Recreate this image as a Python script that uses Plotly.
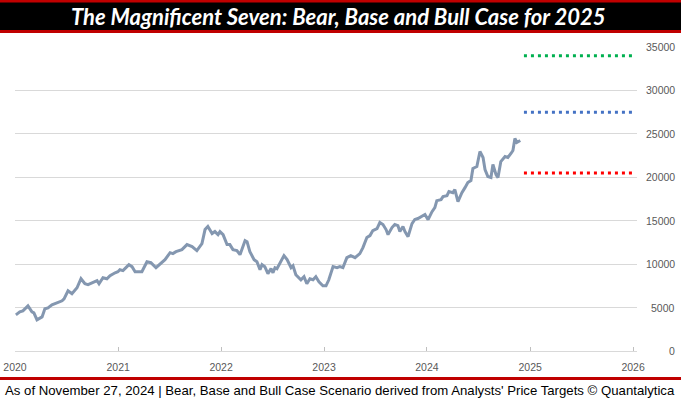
import plotly.graph_objects as go

# ---------------- data ----------------
DATES = [
    "2020-01-04","2020-01-18","2020-01-29","2020-02-16","2020-03-01","2020-03-08","2020-03-19","2020-04-06","2020-04-16","2020-04-27",
    "2020-05-11","2020-05-29","2020-06-16","2020-06-23","2020-07-07","2020-07-21","2020-08-08","2020-08-22","2020-09-05","2020-09-16",
    "2020-10-04","2020-10-18","2020-10-25","2020-11-08","2020-11-22","2020-12-03","2020-12-21","2020-12-31",
    "2021-01-07","2021-01-18","2021-02-01","2021-02-08","2021-02-19","2021-03-02","2021-03-12","2021-03-26","2021-04-13","2021-04-27",
    "2021-05-15","2021-05-29","2021-06-16","2021-07-04","2021-07-14","2021-07-25","2021-08-15","2021-09-02","2021-09-20","2021-10-07",
    "2021-10-25","2021-11-05","2021-11-15","2021-11-30","2021-12-10","2021-12-21","2021-12-28",
    "2022-01-08","2022-01-22","2022-02-01","2022-02-12","2022-02-26","2022-03-09","2022-03-27","2022-04-03","2022-04-13","2022-04-28",
    "2022-05-08","2022-05-19","2022-05-26","2022-06-05","2022-06-16","2022-06-27","2022-07-04","2022-07-11","2022-07-18","2022-08-01",
    "2022-08-12","2022-08-23","2022-09-06","2022-09-13","2022-09-23","2022-10-11","2022-10-22","2022-11-01","2022-11-12","2022-11-23",
    "2022-12-03","2022-12-14","2022-12-28",
    "2023-01-08","2023-01-18","2023-02-02","2023-02-16","2023-02-26","2023-03-09","2023-03-23","2023-04-06","2023-04-21","2023-05-08",
    "2023-05-19","2023-06-02","2023-06-13","2023-06-23","2023-07-08","2023-07-18","2023-07-29","2023-08-09","2023-08-16","2023-08-30",
    "2023-09-09","2023-09-20","2023-09-27","2023-10-08","2023-10-15","2023-10-26","2023-11-09","2023-11-19","2023-11-30","2023-12-14",
    "2023-12-25",
    "2024-01-05","2024-01-19","2024-01-29","2024-02-05","2024-02-20","2024-02-27","2024-03-12","2024-03-19","2024-04-02","2024-04-09",
    "2024-04-20","2024-05-04","2024-05-15","2024-05-25","2024-06-05","2024-06-12","2024-06-26","2024-07-07","2024-07-18","2024-07-25",
    "2024-08-04","2024-08-15","2024-08-22","2024-09-02","2024-09-09","2024-09-19","2024-10-04","2024-10-14","2024-10-25","2024-11-01",
    "2024-11-08","2024-11-15","2024-11-27",
]

INDEX_VALUES = [
    4160,4510,4620,5200,4510,4390,3590,3930,4860,4970,
    5320,5550,5780,6010,6940,6590,7280,8320,7740,7630,
    7860,8090,7740,8440,8320,8670,9010,9130,
    9360,9250,9710,9940,9710,9130,9130,9130,10280,10170,
    9590,10050,10520,11320,11210,11440,11670,12250,12020,11560,
    12360,13980,14330,13520,13750,13400,13750,
    13400,12250,12250,11670,11560,11090,12710,12590,11440,10520,
    10280,9360,9940,9710,8900,9480,9010,9590,9480,10280,
    10980,10520,9590,9820,8780,8200,8550,7740,8320,8200,
    8550,7970,7510,
    7510,8200,9710,9590,9710,9590,10750,10980,10750,11210,
    11900,13060,13290,13870,14100,14790,14560,13980,13400,14210,
    14560,14440,13750,14330,13750,13170,14670,15140,15250,15480,
    15710,
    15120,16040,16500,17310,17430,17770,17890,18350,18230,18580,
    17190,18230,18810,19390,19620,21010,21240,22970,22280,20890,
    20080,19970,21470,20310,19970,21810,22390,22280,22740,23090,
    24470,24010,24240,
]

SCENARIO_NAMES = ["Bull", "Base", "Bear"]
SCENARIO_TARGETS = [34000, 27500, 20500]
SCENARIO_PERIOD = ["2024-12-10", "2026-01-01"]
SCENARIO_COLORS = ["#00B050", "#4472C4", "#FF0000"]

Y_TICKS = [0, 5000, 10000, 15000, 20000, 25000, 30000, 35000]
Y_TICK_LABELS = [str(v) for v in Y_TICKS]

TITLE = "The Magnificent Seven: Bear, Base and Bull Case for 2025"
FOOTER = ("As of November 27, 2024 | Bear, Base and Bull Case Scenario derived from "
          "Analysts' Price Targets \u00a9 Quantalytica")

# ---------------- layout helpers ----------------
W, H = 681, 399
ML, MR, MT, MB = 15, 44, 47, 48
PW, PH = W - ML - MR, H - MT - MB


def px(x):
    return (x - ML) / PW


def py(y):
    return (H - MB - y) / PH


fig = go.Figure()

fig.add_trace(go.Scatter(
    x=DATES, y=INDEX_VALUES, mode="lines",
    line=dict(color="#8497B0", width=3),
    name="Magnificent Seven", hoverinfo="x+y",
))

for name, tgt, col in zip(SCENARIO_NAMES, SCENARIO_TARGETS, SCENARIO_COLORS):
    fig.add_trace(go.Scatter(
        x=SCENARIO_PERIOD, y=[tgt, tgt], mode="lines",
        line=dict(color=col, width=3, dash="3px,4px"),
        name=name,
    ))

shapes = [
    dict(type="rect", xref="paper", yref="paper", x0=px(0), x1=px(W), y0=py(33), y1=py(0),
         fillcolor="#C00000", line=dict(width=0), layer="above"),
    dict(type="rect", xref="paper", yref="paper", x0=px(0), x1=px(W), y0=py(30), y1=py(2.5),
         fillcolor="#000000", line=dict(width=0), layer="above"),
    dict(type="rect", xref="paper", yref="paper", x0=px(0), x1=px(W), y0=py(380), y1=py(377),
         fillcolor="#C00000", line=dict(width=0), layer="above"),
]

annotations = [
    dict(text=TITLE, xref="paper", yref="paper", x=px(338), y=py(16.5),
         xanchor="center", yanchor="middle", showarrow=False,
         font=dict(family="Lato", size=22, color="white", weight="bold", style="italic")),
    dict(text=FOOTER, xref="paper", yref="paper", x=px(3), y=py(390),
         xanchor="left", yanchor="middle", showarrow=False,
         font=dict(family="Liberation Sans", size=13.2, color="#000000")),
]
for v, lab in zip(Y_TICKS, Y_TICK_LABELS):
    annotations.append(dict(
        text=lab, xref="paper", yref="y", x=1, y=v, xanchor="right", yanchor="middle",
        xshift=40, showarrow=False,
        font=dict(family="Liberation Sans", size=10.5, color="#595959"),
    ))

fig.update_layout(
    width=W, height=H,
    margin=dict(l=ML, r=MR, t=MT, b=MB, pad=0, autoexpand=False),
    paper_bgcolor="white", plot_bgcolor="white",
    showlegend=False,
    shapes=shapes, annotations=annotations,
    xaxis=dict(
        type="date", range=["2020-01-01", "2026-01-15"],
        tick0="2020-01-01", dtick="M12", tickformat="%Y",
        ticks="inside", ticklen=4, tickcolor="#BFBFBF",
        showline=True, linecolor="#D9D9D9", linewidth=1,
        showgrid=False, zeroline=False, automargin=False,
        ticklabelstandoff=6,
        tickfont=dict(family="Liberation Sans", size=10.5, color="#595959"),
    ),
    yaxis=dict(
        range=[0, 35000], tickvals=Y_TICKS, showticklabels=False,
        showgrid=True, gridcolor="#D9D9D9", gridwidth=1, zeroline=False,
        ticks="", automargin=False,
    ),
)

fig.write_html(
    "out.html",
    config={"displayModeBar": False},
    post_script="document.body.style.margin='0';document.body.style.overflow='hidden';",
)
